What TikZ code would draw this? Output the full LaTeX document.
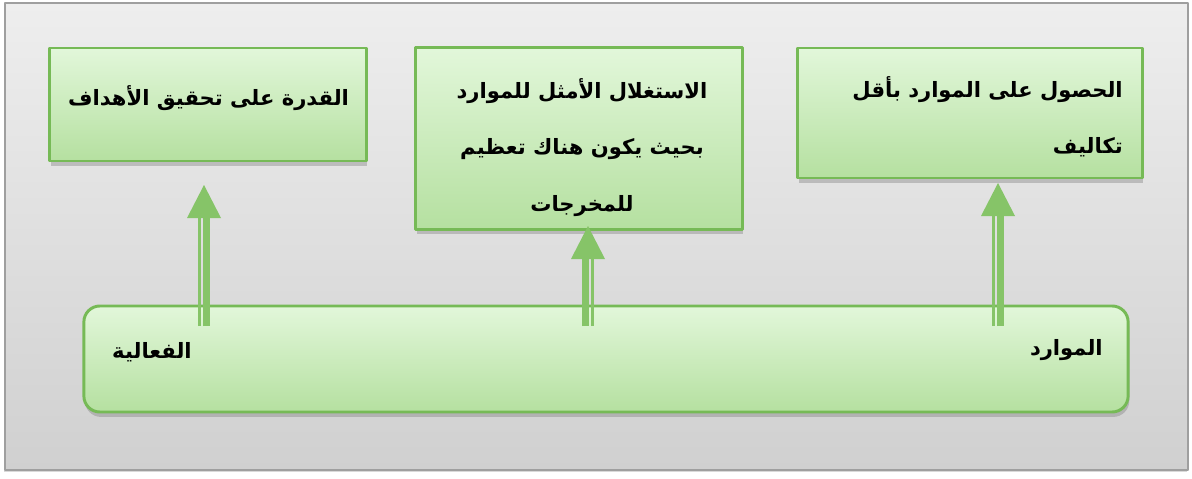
\documentclass[tikz,border=0pt]{standalone}
\usepackage{fontspec}
\newfontfamily\arabicfont[Script=Arabic]{DejaVu Sans}
\TeXXeTstate=1
\usetikzlibrary{positioning,shadows}
\definecolor{boxtop}{RGB}{226,247,218}
\definecolor{boxbot}{RGB}{181,224,160}
\definecolor{boxline}{RGB}{118,186,86}
\definecolor{arrowc}{RGB}{134,196,104}
\definecolor{frametop}{RGB}{238,238,238}
\definecolor{framebot}{RGB}{208,208,208}
\tikzset{
  goal/.style={draw=boxline, line width=2.1pt, top color=boxtop, bottom color=boxbot,
    drop shadow={shadow xshift=0.8pt, shadow yshift=-3.5pt, opacity=0.4}},
  lbl/.style={inner sep=0pt, font=\arabicfont\bfseries\fontsize{15}{40}\selectfont},
}
\begin{document}
\begin{tikzpicture}[x=0.025cm, y=-0.025cm, line join=round]
	\useasboundingbox (0,0) rectangle (1192,479);
	% cadre
	\draw[draw=gray!75, line width=1.8pt, top color=frametop, bottom color=framebot,
	  drop shadow={shadow xshift=-1pt, shadow yshift=-1.5pt, opacity=0.3}] (5,3) rectangle (1188,470);
	% boites
	\node[goal, minimum width=7.9cm, minimum height=2.825cm] (b1) at (208,104.5) {};
	\node[goal, minimum width=8.15cm, minimum height=4.525cm] (b2) at (579,138.5) {};
	\node[goal, minimum width=8.6cm, minimum height=3.25cm] (b3) at (970,113) {};
	\node[goal, rounded corners=0.4cm, minimum width=26.1cm, minimum height=2.65cm] (res) at (606,359) {};
	% textes
	\node[lbl] (l1) at (208.5,98) {\beginR القدرة على تحقيق الأهداف\endR};
	\node[lbl, align=center] (l2) at (582,147.5) {\beginR الاستغلال الأمثل للموارد\endR\\ \beginR بحيث يكون هناك تعظيم\endR\\ \beginR للمخرجات\endR};
	\node[lbl, align=right, anchor=east] (l3) at (1123,117) {\beginR الحصول على الموارد بأقل\endR\\ \beginR تكاليف\endR};
	\node[lbl, anchor=east] (l4) at (1103,350) {\beginR الموارد\endR};
	\node[lbl, anchor=east] (l5) at (192,352) {\beginR الفعالية\endR};
	% fleches
	\coordinate (s1) at (204,326); \coordinate (t1) at (204,185);
	\coordinate (s2) at (588,326); \coordinate (t2) at (588,226);
	\coordinate (s3) at (998,326); \coordinate (t3) at (998,183);
	\foreach \n/\m in {1/1,2/-1,3/1}{
		\draw[arrowc, line width=4.3pt] ([xshift=\m*0.0625cm]s\n) -- ([xshift=\m*0.0625cm, yshift=-0.8cm]t\n);
		\draw[arrowc, line width=1.8pt] ([xshift=-\m*0.115cm]s\n) -- ([xshift=-\m*0.115cm, yshift=-0.8cm]t\n);
		\fill[arrowc] (t\n) -- ++(17,33) -- ++(-34,0) -- cycle;
	}
\end{tikzpicture}
\end{document}
